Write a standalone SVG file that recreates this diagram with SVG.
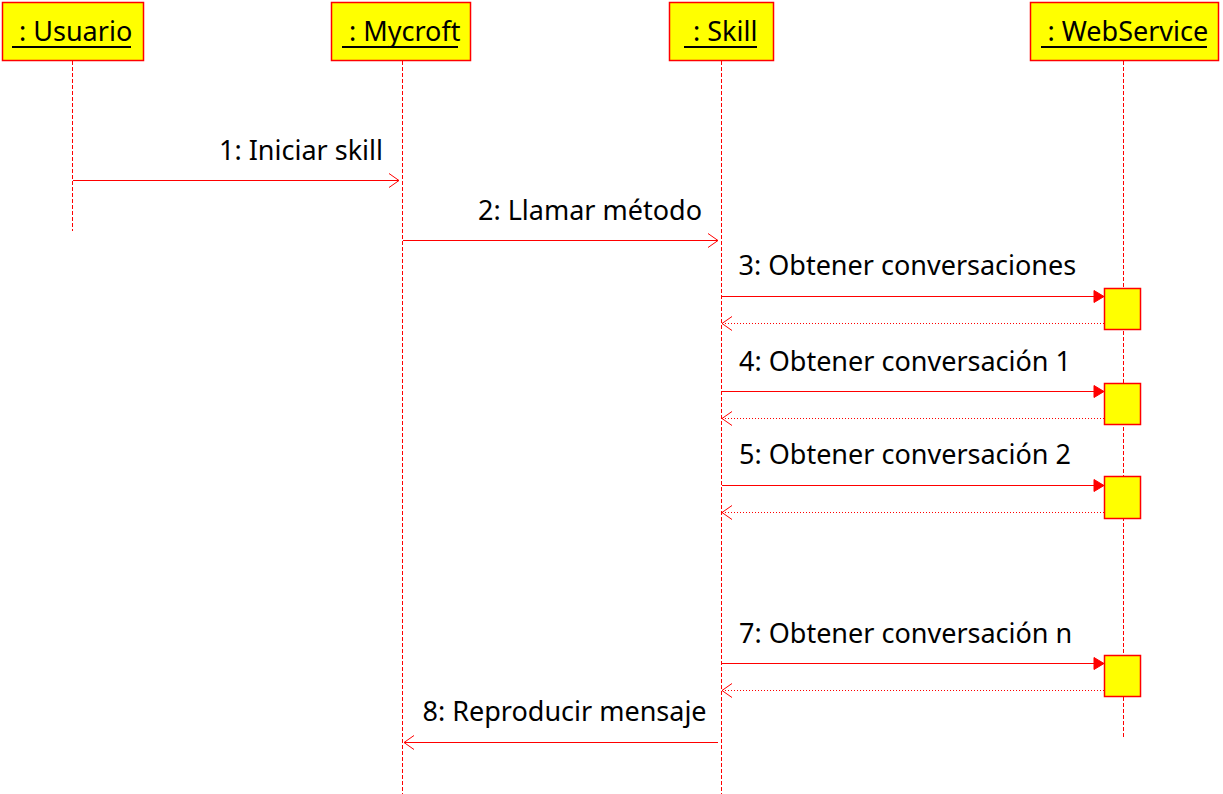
<svg xmlns="http://www.w3.org/2000/svg" width="1223" height="794" viewBox="0 0 1223 794">
<style>
.box{fill:#ffff00;stroke:#ff0000;stroke-width:1.5}
.act{fill:#ffff00;stroke:#ff0000;stroke-width:1.5}
.life{stroke:#ff0000;stroke-width:1;stroke-dasharray:4,2;fill:none}
.ul{stroke:#000;stroke-width:2}
.t{font-family:"Noto Sans","Open Sans","DejaVu Sans",sans-serif;font-size:27px;fill:#000}
.msg{stroke:#ff0000;stroke-width:1;fill:none}
.ret{stroke:#ff0000;stroke-width:1;fill:none;stroke-dasharray:1,2}
</style>
<defs>
<marker id="open" markerUnits="userSpaceOnUse" markerWidth="14" markerHeight="18" refX="11" refY="8" orient="auto" viewBox="0 0 14 18">
<path d="M1,1 L11,8 L1,15" fill="none" stroke="#ff0000" stroke-width="1"/>
</marker>
<marker id="fill" markerUnits="userSpaceOnUse" markerWidth="12" markerHeight="14" refX="11" refY="7" orient="auto" viewBox="0 0 12 14">
<path d="M1,1 L11,7 L1,13 Z" fill="#ff0000" stroke="#ff0000" stroke-width="1"/>
</marker>
</defs>
<rect width="1223" height="794" fill="#ffffff"/>

<g id="usuario">
<rect class="box" x="2.5" y="2.5" width="141" height="58"/>
<text class="t" x="19" y="41">: Usuario</text>
<line class="ul" x1="12" y1="47" x2="131" y2="47"/>
<line class="life" x1="72.5" y1="61" x2="72.5" y2="231"/>
</g>

<g id="mycroft">
<rect class="box" x="331.5" y="2.5" width="139" height="58"/>
<text class="t" x="349" y="41">: Mycroft</text>
<line class="ul" x1="342" y1="47" x2="458" y2="47"/>
<line class="life" x1="402.5" y1="61" x2="402.5" y2="794"/>
</g>

<g id="skill">
<rect class="box" x="669.5" y="2.5" width="104" height="58"/>
<text class="t" x="693" y="41">: Skill</text>
<line class="ul" x1="684" y1="47" x2="757" y2="47"/>
<line class="life" x1="721.5" y1="61" x2="721.5" y2="794"/>
</g>

<g id="webservice">
<rect class="box" x="1030.5" y="2.5" width="188" height="58"/>
<text class="t" x="1047.5" y="41">: WebService</text>
<line class="ul" x1="1041" y1="47" x2="1207" y2="47"/>
<line class="life" x1="1123.5" y1="61" x2="1123.5" y2="738"/>
<rect class="act" x="1104.5" y="288.5" width="36" height="41"/>
<rect class="act" x="1104.5" y="383.5" width="36" height="41"/>
<rect class="act" x="1104.5" y="476.5" width="36" height="42"/>
<rect class="act" x="1104.5" y="655.5" width="36" height="41"/>
</g>

<g id="connectors">
<line class="msg" x1="73" y1="180.5" x2="399" y2="180.5" marker-end="url(#open)"/>
<line class="msg" x1="403" y1="240.5" x2="718" y2="240.5" marker-end="url(#open)"/>
<line class="msg" x1="722" y1="296.5" x2="1104" y2="296.5" marker-end="url(#fill)"/>
<line class="ret" x1="1104" y1="323.5" x2="722" y2="323.5" marker-end="url(#open)"/>
<line class="msg" x1="722" y1="391.5" x2="1104" y2="391.5" marker-end="url(#fill)"/>
<line class="ret" x1="1104" y1="418.5" x2="722" y2="418.5" marker-end="url(#open)"/>
<line class="msg" x1="722" y1="485.5" x2="1104" y2="485.5" marker-end="url(#fill)"/>
<line class="ret" x1="1104" y1="512.5" x2="722" y2="512.5" marker-end="url(#open)"/>
<line class="msg" x1="722" y1="663.5" x2="1104" y2="663.5" marker-end="url(#fill)"/>
<line class="ret" x1="1104" y1="690.5" x2="722" y2="690.5" marker-end="url(#open)"/>
<line class="msg" x1="718" y1="742.5" x2="404" y2="742.5" marker-end="url(#open)"/>
</g>

<g id="labels">
<text class="t" x="219" y="160">1: Iniciar skill</text>
<text class="t" x="478" y="220">2: Llamar método</text>
<text class="t" x="738.5" y="275">3: Obtener conversaciones</text>
<text class="t" x="739" y="370.5">4: Obtener conversación 1</text>
<text class="t" x="739" y="463.5">5: Obtener conversación 2</text>
<text class="t" x="739" y="642.5">7: Obtener conversación n</text>
<text class="t" x="422.5" y="720.5">8: Reproducir mensaje</text>
</g>
</svg>
